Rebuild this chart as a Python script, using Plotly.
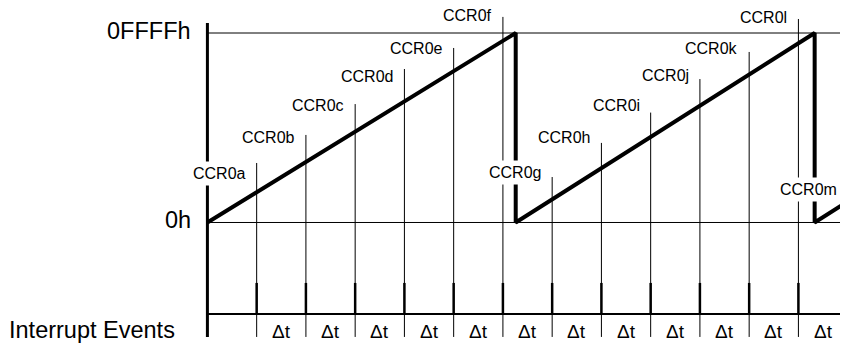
import plotly.graph_objects as go

# time axis in units of delta-t, counter axis as a fraction of 0FFFFh
ccr_names = ["CCR0a", "CCR0b", "CCR0c", "CCR0d", "CCR0e", "CCR0f", "CCR0g",
             "CCR0h", "CCR0i", "CCR0j", "CCR0k", "CCR0l", "CCR0m"]
ccr_times = [1, 2, 3, 4, 5, 6, 7, 8, 9, 10, 11, 12, 13]
ccr_tops = [0.314, 0.462, 0.625, 0.810, 0.921, 1.085, 0.240,
            0.420, 0.580, 0.757, 0.900, 1.074, 0.090]
ccr_label_y = [0.256, 0.451, 0.615, 0.773, 0.916, 1.095, 0.266,
               0.446, 0.615, 0.778, 0.916, 1.082, 0.172]

reset_times = [6.26, 12.33]
period = 6.07

y_tick_vals = [0, 1]
y_tick_text = ["0h", "0FFFFh"]
row_label = "Interrupt Events"
dt_label = "\u0394t"

events_level = -0.483
tick_top = -0.319
line_bottom = -0.604
axis_top = 1.053

FONT = "Liberation Sans, Arial, Helvetica, sans-serif"

fig = go.Figure()

# counter ramp with resets
ramp_x, ramp_y = [0], [0]
for r in reset_times:
    ramp_x += [r, r]
    ramp_y += [1, 0]
ramp_x.append(reset_times[-1] + period)
ramp_y.append(1)

# thin CCR0 marker lines
cx, cy = [], []
for t, top in zip(ccr_times, ccr_tops):
    cx += [t, t, None]
    cy += [line_bottom, top, None]
fig.add_trace(go.Scatter(x=cx, y=cy, mode="lines",
                         line=dict(color="black", width=1), hoverinfo="skip"))

# interrupt event ticks
ix, iy = [], []
for t in ccr_times:
    ix += [t, t, None]
    iy += [events_level, tick_top, None]
fig.add_trace(go.Scatter(x=ix, y=iy, mode="lines",
                         line=dict(color="black", width=2.5), hoverinfo="skip"))

# horizontal reference lines
x_end = ccr_times[-1] + 1
for yv, w in [(0, 1), (1, 1), (events_level, 2)]:
    fig.add_trace(go.Scatter(x=[0, x_end], y=[yv, yv], mode="lines",
                             line=dict(color="black", width=w), hoverinfo="skip"))

fig.add_trace(go.Scatter(x=ramp_x, y=ramp_y, mode="lines",
                         line=dict(color="black", width=4), hoverinfo="skip"))

# vertical axis
fig.add_trace(go.Scatter(x=[0, 0], y=[line_bottom, axis_top], mode="lines",
                         line=dict(color="black", width=3), hoverinfo="skip"))

annotations = []
for name, t, ly in zip(ccr_names, ccr_times, ccr_label_y):
    annotations.append(dict(x=t, y=ly, text=name, showarrow=False,
                            xanchor="right", yanchor="middle", xshift=-7,
                            bgcolor="white", borderpad=3,
                            font=dict(family=FONT, size=16, color="black")))

for t in ccr_times[:-1]:
    annotations.append(dict(x=t + 0.5, y=-0.573, text=dt_label, showarrow=False,
                            xanchor="center", yanchor="middle",
                            font=dict(family=FONT, size=19, color="black")))

for v, txt in zip(y_tick_vals, y_tick_text):
    annotations.append(dict(x=0, y=v + 0.012, text=txt, showarrow=False,
                            xanchor="right", yanchor="middle", xshift=-14,
                            font=dict(family=FONT, size=23.5, color="black")))

annotations.append(dict(x=0, y=-0.566, text=row_label, showarrow=False,
                        xanchor="right", yanchor="middle", xshift=-30,
                        font=dict(family=FONT, size=23.5, color="black")))

# the page body adds an 8px offset, so the figure is 8px smaller each way
fig.update_layout(
    width=840, height=335,
    margin=dict(l=0, r=0, t=0, b=0),
    paper_bgcolor="white", plot_bgcolor="white",
    showlegend=False,
    annotations=annotations,
    xaxis=dict(range=[-4.049, 13.007], visible=False, fixedrange=True),
    yaxis=dict(range=[-0.636, 1.132], visible=False, fixedrange=True),
)

fig.write_html("out.html")
